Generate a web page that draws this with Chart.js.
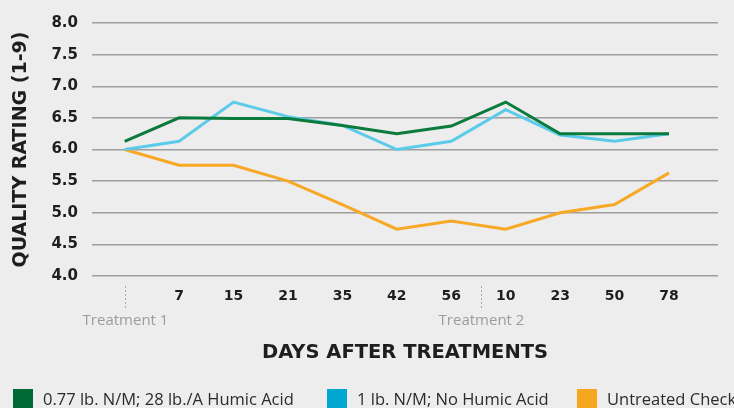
<!DOCTYPE html>
<html lang="en">
<head>
  <meta charset="UTF-8">
  <title>Quality rating after treatments</title>
  <script src="https://cdn.jsdelivr.net/npm/chart.js"></script>
  <style>
    html, body {
      margin: 0;
      padding: 0;
      background: #ededed;
    }
    #wrap {
      position: relative;
      width: 734px;
      height: 408px;
      overflow: hidden;
      font-family: "Open Sans", sans-serif;
    }
    #ratingChart {
      display: block;
    }
    #legend {
      position: absolute;
      left: 0;
      top: 389px;
      width: 734px;
      height: 19px;
    }
    .item {
      position: absolute;
      top: 0;
      height: 19px;
      display: flex;
      align-items: center;
      font-size: 16.5px;
      color: #2b2b2b;
      white-space: nowrap;
    }
    .box {
      width: 20px;
      height: 19px;
      margin-right: 10px;
      flex: none;
    }
  </style>
</head>
<body>
  <div id="wrap">
    <canvas id="ratingChart"></canvas>
    <div id="legend"></div>
  </div>

  <script>
    // days after each treatment (first slot is the treatment date itself)
    const dayLabels = ['', '7', '15', '21', '35', '42', '56', '10', '23', '50', '78'];

    const humicAcid   = [6.13, 6.5, 6.49, 6.49, 6.38, 6.25, 6.37, 6.75, 6.25, 6.25, 6.25];
    const noHumicAcid = [6.0, 6.13, 6.75, 6.52, 6.38, 6.0, 6.13, 6.63, 6.23, 6.13, 6.25];
    const untreated   = [6.0, 5.75, 5.75, 5.5, 5.13, 4.74, 4.87, 4.74, 5.0, 5.13, 5.63];

    const seriesNames = ['0.77 lb. N/M; 28 lb./A Humic Acid', '1 lb. N/M; No Humic Acid', 'Untreated Check'];
    const lineColors = ['#0a7a3d', '#5ccbea', '#f7a925'];
    const legendColors = ['#006a37', '#00a8d1', '#f5a81f'];
    const legendLeft = [13, 327, 577];

    const treatmentMarks = [0, 6.55];
    const treatmentNames = ['Treatment 1', 'Treatment 2'];

    const toPoints = arr => arr.map((v, i) => ({ x: i, y: v }));

    // html legend
    const legendEl = document.getElementById('legend');
    seriesNames.forEach((name, i) => {
      const item = document.createElement('div');
      item.className = 'item';
      item.style.left = legendLeft[i] + 'px';
      item.innerHTML = '<span class="box" style="background:' + legendColors[i] + '"></span>' + name;
      legendEl.appendChild(item);
    });

    const treatmentPlugin = {
      id: 'treatments',
      afterDraw(chart) {
        const ctx = chart.ctx;
        const xs = chart.scales.x;
        const bottom = chart.chartArea.bottom;
        ctx.save();
        ctx.strokeStyle = '#a8a8a8';
        ctx.lineWidth = 1;
        ctx.setLineDash([2, 2]);
        ctx.font = '15px "Open Sans", sans-serif';
        ctx.fillStyle = '#9c9c9c';
        ctx.textAlign = 'center';
        ctx.textBaseline = 'middle';
        treatmentMarks.forEach((v, i) => {
          const x = Math.round(xs.getPixelForValue(v)) + 0.5;
          ctx.beginPath();
          ctx.moveTo(x, bottom + 10);
          ctx.lineTo(x, bottom + 32);
          ctx.stroke();
          ctx.fillText(treatmentNames[i], x, bottom + 45);
        });
        ctx.restore();
      }
    };

    const ctx = document.getElementById('ratingChart').getContext('2d');
    const chart = new Chart(ctx, {
      type: 'line',
      data: {
        datasets: [humicAcid, noHumicAcid, untreated].map((arr, i) => ({
          label: seriesNames[i],
          data: toPoints(arr),
          borderColor: lineColors[i],
          backgroundColor: lineColors[i],
          borderWidth: 3,
          pointRadius: 0,
          tension: 0,
          fill: false
        }))
      },
      options: {
        responsive: true,
        maintainAspectRatio: false,
        animation: false,
        layout: {
          padding: { top: 18, right: 16, bottom: 30, left: 0 }
        },
        plugins: {
          legend: { display: false },
          tooltip: { enabled: false }
        },
        scales: {
          x: {
            type: 'linear',
            min: -0.6,
            max: 10.9,
            afterBuildTicks: s => { s.ticks = dayLabels.map((_, i) => ({ value: i })); },
            afterFit: s => { s.height = 102; },
            grid: { display: false, drawTicks: false },
            border: { display: false },
            ticks: {
              autoSkip: false,
              maxRotation: 0,
              padding: 12,
              color: '#1e1e1e',
              font: { family: '"DejaVu Sans", sans-serif', size: 14, weight: 'bold' },
              callback: (v, i) => dayLabels[i]
            },
            title: {
              display: true,
              text: 'DAYS AFTER TREATMENTS',
              color: '#1e1e1e',
              font: { family: '"DejaVu Sans", sans-serif', size: 19.5, weight: 'bold' },
              padding: { top: 0, bottom: 13 }
            }
          },
          y: {
            min: 4,
            max: 8,
            afterFit: s => { s.width = 92; },
            grid: { color: '#9e9e9e', lineWidth: 1.5, drawTicks: false },
            border: { display: false },
            ticks: {
              stepSize: 0.5,
              padding: 14,
              color: '#1e1e1e',
              font: { family: '"DejaVu Sans", sans-serif', size: 15, weight: 'bold' },
              callback: v => v.toFixed(1)
            },
            title: {
              display: true,
              text: 'QUALITY RATING (1-9)',
              color: '#1e1e1e',
              font: { family: '"DejaVu Sans", sans-serif', size: 19, weight: 'bold' },
              padding: { top: 10, bottom: 0 }
            }
          }
        }
      },
      plugins: [treatmentPlugin]
    });
  </script>
</body>
</html>
